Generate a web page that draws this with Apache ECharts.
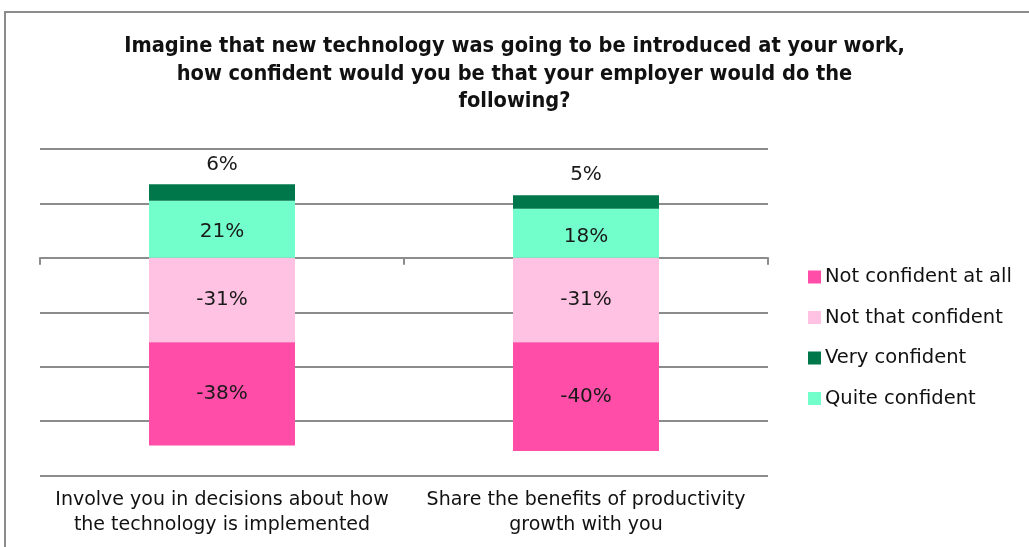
<!DOCTYPE html>
<html>
<head>
<meta charset="utf-8">
<script src="https://cdn.jsdelivr.net/npm/echarts@6/dist/echarts.min.js"></script>
<style>
html,body{margin:0;padding:0;background:#fff;}
#c{width:1029px;height:547px;}
</style>
</head>
<body>
<div id="c"></div>
<script>
const categories = ["Involve you in decisions about how\nthe technology is implemented", "Share the benefits of productivity\ngrowth with you"];
const notConfidentAtAll = [-38, -40];
const notThatConfident = [-31, -31];
const veryConfident = [6, 5];
const quiteConfident = [21, 18];
const legendOrder = ["Not confident at all", "Not that confident", "Very confident", "Quite confident"];
const titleText = "Imagine that new technology was going to be introduced at your work,\nhow confident would you be that your employer would do the\nfollowing?";

const FONT = "DejaVu Sans";
const labelStyle = {show: true, formatter: p => p.value + "%", fontFamily: FONT, fontSize: 20, color: "#1a1a1a"};

const chart = echarts.init(document.getElementById('c'));
chart.setOption({
  animation: false,
  graphic: [{type: 'rect', shape: {x: 5, y: 12, width: 1200, height: 700}, style: {fill: 'none', stroke: '#8c8c8c', lineWidth: 2}, silent: true}],
  title: {
    text: titleText, left: 'center', top: 28, padding: [5, 0, 5, 10],
    textStyle: {fontFamily: "DejaVu Sans Condensed", fontWeight: 'bold', fontSize: 21.6, lineHeight: 27.5, color: '#111'}
  },
  legend: {
    orient: 'vertical', left: 803, top: 262, itemWidth: 13, itemHeight: 13, itemGap: 20.5,
    data: legendOrder, icon: 'rect',
    textStyle: {fontFamily: FONT, fontSize: 19.5, lineHeight: 20, color: '#111', padding: [0, 0, 0, -1]}
  },
  grid: {left: 40, right: 261, top: 149, bottom: 71.5},
  xAxis: [
    {type: 'category', data: categories, position: 'top',
     axisLine: {onZero: true, lineStyle: {color: '#8c8c8c', width: 2}},
     axisTick: {show: true, inside: true, length: 7, lineStyle: {color: '#8c8c8c', width: 2}},
     axisLabel: {show: false}, splitLine: {show: false}},
    {type: 'category', data: categories, position: 'bottom',
     axisLine: {show: false, onZero: false}, axisTick: {show: false},
     axisLabel: {show: true, interval: 0, margin: 12, fontFamily: FONT, fontSize: 19, lineHeight: 25, color: '#111'}}
  ],
  yAxis: {
    type: 'value', min: -80, max: 40, interval: 20,
    axisLine: {show: false}, axisTick: {show: false}, axisLabel: {show: false},
    splitLine: {show: true, lineStyle: {color: '#8c8c8c', width: 2}}
  },
  series: [
    {name: "Not that confident", type: 'bar', stack: 'a', data: notThatConfident, barWidth: 146, itemStyle: {color: '#FFC2E2'}, label: Object.assign({position: 'inside'}, labelStyle)},
    {name: "Not confident at all", type: 'bar', stack: 'a', data: notConfidentAtAll, barWidth: 146, itemStyle: {color: '#FF4DA8'}, label: Object.assign({position: 'inside'}, labelStyle)},
    {name: "Quite confident", type: 'bar', stack: 'a', data: quiteConfident, barWidth: 146, itemStyle: {color: '#72FFCB'}, label: Object.assign({position: 'inside', offset: [0, 3]}, labelStyle)},
    {name: "Very confident", type: 'bar', stack: 'a', data: veryConfident, barWidth: 146, itemStyle: {color: '#00774B'}, label: Object.assign({position: 'top', distance: 10}, labelStyle)}
  ]
});
</script>
</body>
</html>
